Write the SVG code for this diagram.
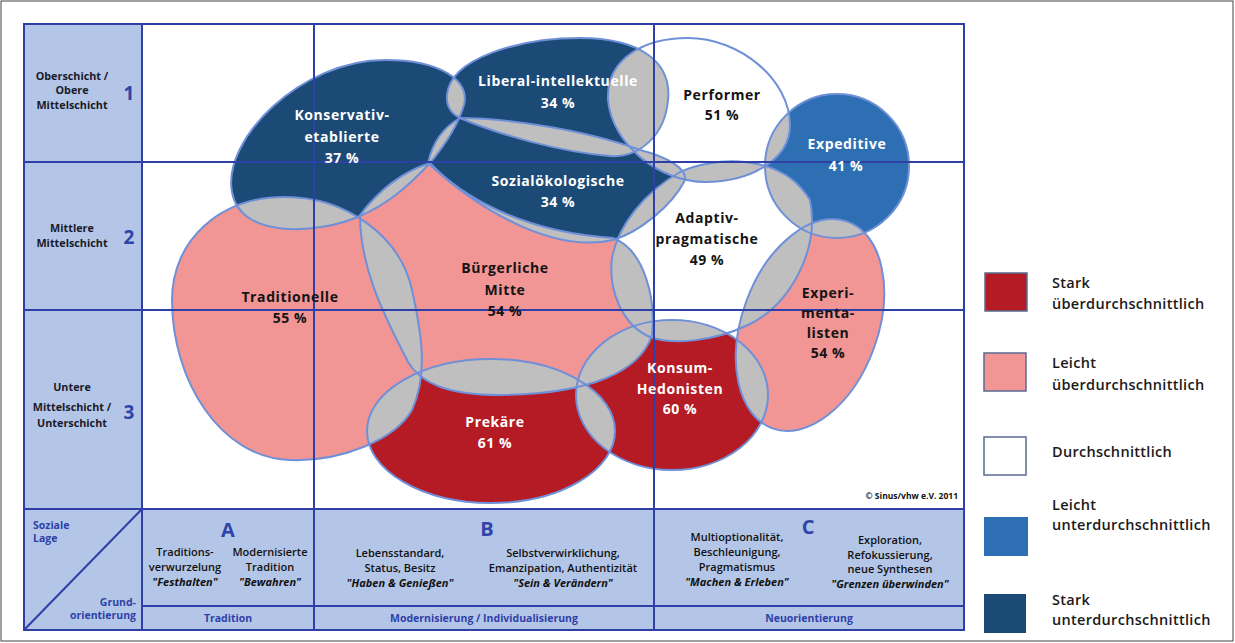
<svg xmlns="http://www.w3.org/2000/svg" xmlns:xlink="http://www.w3.org/1999/xlink" width="1235" height="643" viewBox="0 0 1235 643">
<style>
.grid{stroke:#2f3fa8;stroke-width:2;fill:none}
.outl{fill:none;stroke:#6f90d8;stroke-width:2}
.ov{fill:#bfbfbf}
.dark{fill:#1c4a76}.mid{fill:#2d6fb2}.pink{fill:#f29595}.red{fill:#b51b24}.white{fill:#ffffff}
.lbl{font-family:"Open Sans","Noto Sans",sans-serif;font-weight:700;font-size:14px;text-anchor:middle;letter-spacing:0.6px}
.w{fill:#ffffff}.k{fill:#141414}
.side{font-family:"Open Sans","Noto Sans",sans-serif;font-weight:700;font-size:10.8px;text-anchor:middle;fill:#1a1a2a}
.num{font-family:"Open Sans","Noto Sans",sans-serif;font-weight:700;font-size:19px;text-anchor:middle;fill:#2f44a8}
.big{font-family:"Open Sans","Noto Sans",sans-serif;font-weight:700;font-size:20px;text-anchor:middle;fill:#2f44a8}
.bt{font-family:"Open Sans","Noto Sans",sans-serif;font-weight:600;font-size:11px;text-anchor:middle;fill:#111}
.bi{font-style:italic;font-weight:700}
.blue{font-family:"Open Sans","Noto Sans",sans-serif;font-weight:700;font-size:10.5px;fill:#2f3fa8}
.leg{font-family:"Open Sans","Noto Sans",sans-serif;font-weight:600;font-size:14.5px;fill:#1a1a1a;letter-spacing:0.3px}
.lbox{stroke:#5a6a90;stroke-width:1.5}
</style>
<defs>
<path id="sK" d="M 232,192 C 222,140 300,60 385,60 C 440,60 470,80 464,105 C 458,125 445,145 430,163 C 405,190 385,205 360,216 C 320,234 240,240 232,192 Z"/>
<path id="sL" d="M 447,95 C 450,58 520,38 580,38 C 640,38 672,62 668,100 C 665,135 640,158 610,156 C 560,152 500,135 460,118 C 450,113 446,106 447,95 Z"/>
<path id="sS" d="M 428,163 C 432,145 442,128 460,118 C 500,118 580,128 640,150 C 668,157 690,170 684,182 C 672,205 640,232 613,240 C 560,252 490,220 428,163 Z"/>
<path id="sB" d="M 360,215 C 382,186 408,170 430,163 C 460,195 520,232 613,238 C 645,250 656,300 652,335 C 640,372 590,394 500,395 C 445,395 420,382 408,362 C 388,322 360,272 360,215 Z"/>
<path id="sT" d="M 172,300 C 172,240 220,197 285,197 C 345,197 400,235 412,290 C 422,335 428,375 412,410 C 395,440 340,462 290,460 C 220,458 172,380 172,300 Z"/>
<ellipse id="sP" cx="491" cy="431" rx="124" ry="72"/>
<ellipse id="sH" cx="672" cy="395" rx="96" ry="75"/>
<ellipse id="sE" cx="0" cy="0" rx="68" ry="110" transform="translate(810,325) rotate(20)"/>
<circle id="sX" cx="837" cy="166" r="72"/>
<path id="sF" d="M 608,100 C 606,58 645,38 688,38 C 740,38 790,80 790,125 C 790,160 750,182 705,182 C 660,182 612,145 608,100 Z"/>
<path id="sA" d="M 612,258 C 618,225 645,192 680,172 C 710,158 780,150 810,200 C 820,250 790,305 748,325 C 712,342 672,345 650,337 C 622,325 608,290 612,258 Z"/>
<clipPath id="cK"><use xlink:href="#sK"/></clipPath>
<clipPath id="cL"><use xlink:href="#sL"/></clipPath>
<clipPath id="cS"><use xlink:href="#sS"/></clipPath>
<clipPath id="cB"><use xlink:href="#sB"/></clipPath>
<clipPath id="cT"><use xlink:href="#sT"/></clipPath>
<clipPath id="cP"><use xlink:href="#sP"/></clipPath>
<clipPath id="cH"><use xlink:href="#sH"/></clipPath>
<clipPath id="cE"><use xlink:href="#sE"/></clipPath>
<clipPath id="cX"><use xlink:href="#sX"/></clipPath>
<clipPath id="cF"><use xlink:href="#sF"/></clipPath>
<clipPath id="cA"><use xlink:href="#sA"/></clipPath>
</defs>

<rect x="0" y="0" width="1235" height="643" fill="#ffffff"/>
<rect x="1" y="1" width="1232" height="640" fill="none" stroke="#444" stroke-width="1"/>

<g id="panels">
<rect x="24" y="24" width="118" height="485" fill="#b4c6e7"/>
<rect x="24" y="509" width="940" height="121" fill="#b4c6e7"/>
</g>

<g id="fills">
<use id="n-konservativ" xlink:href="#sK" class="dark"/>
<use id="n-liberal" xlink:href="#sL" class="dark"/>
<use id="n-sozial" xlink:href="#sS" class="dark"/>
<use id="n-buergerlich" xlink:href="#sB" class="pink"/>
<use id="n-traditionell" xlink:href="#sT" class="pink"/>
<use id="n-prekaer" xlink:href="#sP" class="red"/>
<use id="n-konsum" xlink:href="#sH" class="red"/>
<use id="n-experiment" xlink:href="#sE" class="pink"/>
<use id="n-expeditiv" xlink:href="#sX" class="mid"/>
<use id="n-performer" xlink:href="#sF" class="white"/>
<use id="n-adaptiv" xlink:href="#sA" class="white"/>
</g>

<g id="overlaps" class="ov">
<use xlink:href="#sK" clip-path="url(#cL)"/>
<use xlink:href="#sK" clip-path="url(#cS)"/>
<use xlink:href="#sK" clip-path="url(#cB)"/>
<use xlink:href="#sK" clip-path="url(#cT)"/>
<use xlink:href="#sL" clip-path="url(#cS)"/>
<use xlink:href="#sL" clip-path="url(#cF)"/>
<use xlink:href="#sS" clip-path="url(#cB)"/>
<use xlink:href="#sS" clip-path="url(#cA)"/>
<use xlink:href="#sS" clip-path="url(#cF)"/>
<use xlink:href="#sB" clip-path="url(#cT)"/>
<use xlink:href="#sB" clip-path="url(#cP)"/>
<use xlink:href="#sB" clip-path="url(#cH)"/>
<use xlink:href="#sB" clip-path="url(#cA)"/>
<use xlink:href="#sT" clip-path="url(#cP)"/>
<use xlink:href="#sP" clip-path="url(#cH)"/>
<use xlink:href="#sH" clip-path="url(#cA)"/>
<use xlink:href="#sH" clip-path="url(#cE)"/>
<use xlink:href="#sA" clip-path="url(#cF)"/>
<use xlink:href="#sA" clip-path="url(#cX)"/>
<use xlink:href="#sA" clip-path="url(#cE)"/>
<use xlink:href="#sF" clip-path="url(#cX)"/>
<use xlink:href="#sE" clip-path="url(#cX)"/>
</g>

<g id="outlines" class="outl">
<use xlink:href="#sK"/><use xlink:href="#sL"/><use xlink:href="#sS"/><use xlink:href="#sB"/>
<use xlink:href="#sT"/><use xlink:href="#sP"/><use xlink:href="#sH"/><use xlink:href="#sE"/>
<use xlink:href="#sX"/><use xlink:href="#sF"/><use xlink:href="#sA"/>
</g>

<g id="connectors" class="grid">
<rect x="24" y="24" width="940" height="606"/>
<line x1="142" y1="24" x2="142" y2="630"/>
<line x1="314" y1="24" x2="314" y2="630"/>
<line x1="654" y1="24" x2="654" y2="630"/>
<line x1="24" y1="162" x2="964" y2="162"/>
<line x1="24" y1="310" x2="964" y2="310"/>
<line x1="24" y1="509" x2="964" y2="509"/>
<line x1="142" y1="606" x2="964" y2="606"/>
<line x1="24" y1="630" x2="142" y2="509"/>
</g>

<g id="labels">
<g id="l-konservativ" class="lbl w"><text x="342" y="120">Konservativ-</text><text x="342" y="142">etablierte</text><text x="342" y="163">37 %</text></g>
<g id="l-liberal" class="lbl w"><text x="558" y="86">Liberal-intellektuelle</text><text x="558" y="108">34 %</text></g>
<g id="l-sozial" class="lbl w"><text x="558" y="186">Sozialökologische</text><text x="558" y="207">34 %</text></g>
<g id="l-performer" class="lbl k"><text x="722" y="100">Performer</text><text x="722" y="120">51 %</text></g>
<g id="l-expeditiv" class="lbl w"><text x="847" y="149">Expeditive</text><text x="846" y="171">41 %</text></g>
<g id="l-adaptiv" class="lbl k"><text x="707" y="223">Adaptiv-</text><text x="707" y="244">pragmatische</text><text x="707" y="265">49 %</text></g>
<g id="l-buergerlich" class="lbl k"><text x="505" y="273">Bürgerliche</text><text x="505" y="295">Mitte</text><text x="505" y="316">54 %</text></g>
<g id="l-traditionell" class="lbl k"><text x="290" y="302">Traditionelle</text><text x="290" y="323">55 %</text></g>
<g id="l-experiment" class="lbl k"><text x="828" y="298">Experi-</text><text x="828" y="318">menta-</text><text x="828" y="338">listen</text><text x="828" y="358">54 %</text></g>
<g id="l-prekaer" class="lbl w"><text x="495" y="427">Prekäre</text><text x="495" y="448">61 %</text></g>
<g id="l-konsum" class="lbl w"><text x="680" y="373">Konsum-</text><text x="680" y="394">Hedonisten</text><text x="680" y="414">60 %</text></g>
<text x="958" y="499" font-family="Open Sans, Noto Sans, sans-serif" font-weight="700" font-size="8.5" text-anchor="end" fill="#111">© Sinus/vhw e.V. 2011</text>
</g>

<g id="side-axis">
<text class="side" x="72" y="80">Oberschicht /</text><text class="side" x="72" y="94">Obere</text><text class="side" x="72" y="109">Mittelschicht</text>
<text class="num" x="129" y="100">1</text>
<text class="side" x="72" y="232">Mittlere</text><text class="side" x="72" y="247">Mittelschicht</text>
<text class="num" x="129" y="244">2</text>
<text class="side" x="72" y="391">Untere</text><text class="side" x="72" y="411">Mittelschicht /</text><text class="side" x="72" y="427">Unterschicht</text>
<text class="num" x="129" y="419">3</text>
</g>

<g id="bottom-axis">
<text class="blue" x="33" y="529">Soziale</text><text class="blue" x="33" y="542">Lage</text>
<text class="blue" x="136" y="606" text-anchor="end">Grund-</text><text class="blue" x="136" y="619" text-anchor="end">orientierung</text>
<text class="big" x="228" y="537">A</text>
<text class="bt" x="185" y="556">Traditions-</text><text class="bt" x="185" y="571">verwurzelung</text><text class="bt bi" x="185" y="586">"Festhalten"</text>
<text class="bt" x="270" y="556">Modernisierte</text><text class="bt" x="270" y="571">Tradition</text><text class="bt bi" x="270" y="586">"Bewahren"</text>
<text class="blue" x="228" y="622" text-anchor="middle">Tradition</text>
<text class="big" x="487" y="536">B</text>
<text class="bt" x="400" y="557">Lebensstandard,</text><text class="bt" x="400" y="572">Status, Besitz</text><text class="bt bi" x="400" y="587">"Haben &amp; Genießen"</text>
<text class="bt" x="563" y="557">Selbstverwirklichung,</text><text class="bt" x="563" y="572">Emanzipation, Authentizität</text><text class="bt bi" x="563" y="587">"Sein &amp; Verändern"</text>
<text class="blue" x="484" y="622" text-anchor="middle">Modernisierung / Individualisierung</text>
<text class="big" x="808" y="534">C</text>
<text class="bt" x="737" y="541">Multioptionalität,</text><text class="bt" x="737" y="556">Beschleunigung,</text><text class="bt" x="737" y="571">Pragmatismus</text><text class="bt bi" x="737" y="586">"Machen &amp; Erleben"</text>
<text class="bt" x="890" y="544">Exploration,</text><text class="bt" x="890" y="558.5">Refokussierung,</text><text class="bt" x="890" y="573">neue Synthesen</text><text class="bt bi" x="890" y="587.5">"Grenzen überwinden"</text>
<text class="blue" x="809" y="622" text-anchor="middle">Neuorientierung</text>
</g>

<g id="legend">
<g id="leg-stark-ueber"><rect class="lbox" x="985" y="273" width="42" height="38" fill="#b51b24"/><text class="leg" x="1052" y="288">Stark</text><text class="leg" x="1052" y="309">überdurchschnittlich</text></g>
<g id="leg-leicht-ueber"><rect class="lbox" x="984" y="353" width="42" height="38" fill="#f29595"/><text class="leg" x="1052" y="368">Leicht</text><text class="leg" x="1052" y="390">überdurchschnittlich</text></g>
<g id="leg-durch"><rect class="lbox" x="984" y="437" width="42" height="38" fill="#ffffff"/><text class="leg" x="1052" y="457">Durchschnittlich</text></g>
<g id="leg-leicht-unter"><rect x="984" y="517" width="44" height="39" fill="#2d6fb2"/><text class="leg" x="1052" y="510">Leicht</text><text class="leg" x="1052" y="530">unterdurchschnittlich</text></g>
<g id="leg-stark-unter"><rect x="984" y="594" width="42" height="39" fill="#1c4a76"/><text class="leg" x="1052" y="605">Stark</text><text class="leg" x="1052" y="625">unterdurchschnittlich</text></g>
</g>
</svg>
